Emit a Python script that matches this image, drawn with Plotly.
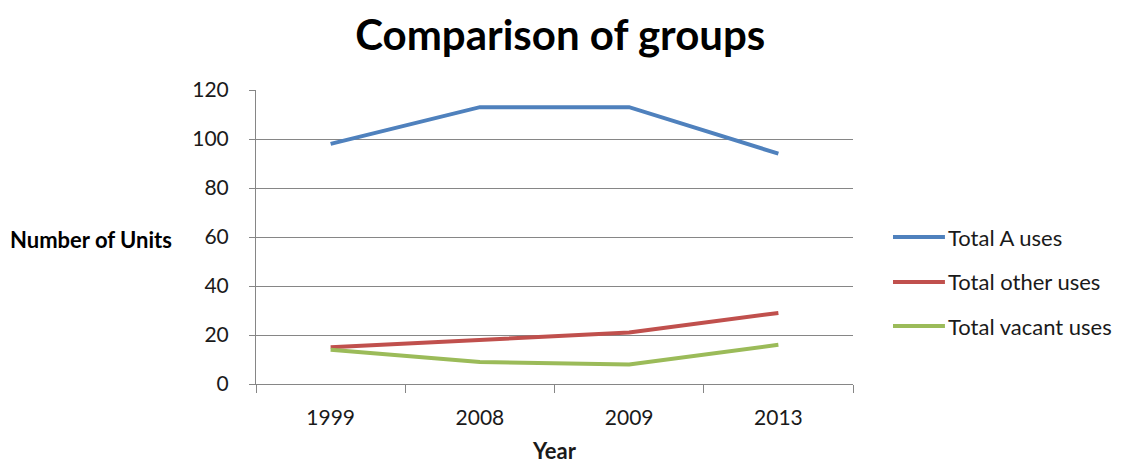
import plotly.graph_objects as go

# Survey years and unit counts per group
years = ["1999", "2008", "2009", "2013"]
total_a_uses = [98, 113, 113, 94]
total_other_uses = [15, 18, 21, 29]
total_vacant_uses = [14, 9, 8, 16]

series_names = ["Total A uses", "Total other uses", "Total vacant uses"]
series_values = [total_a_uses, total_other_uses, total_vacant_uses]
series_colors = ["#4F81BD", "#C0504D", "#9BBB59"]

y_ticks = [0, 20, 40, 60, 80, 100, 120]

FONT = "Lato"
AXIS_GRAY = "#868686"
TEXT = "#1a1a1a"

fig = go.Figure()
for name, vals, color in zip(series_names, series_values, series_colors):
    fig.add_trace(go.Scatter(
        x=years, y=vals, name=name, mode="lines",
        line=dict(color=color, width=4),
        showlegend=False,
    ))

fig.update_layout(
    width=1125, height=464,
    margin=dict(l=256, r=272, t=90, b=80, autoexpand=False),
    paper_bgcolor="white", plot_bgcolor="white",
    font=dict(family=FONT, size=21, color=TEXT),
    title=dict(
        text="<b>Comparison of groups</b>",
        font=dict(family=FONT, size=42, color="black"),
        x=0.498, xanchor="center", y=0.925, yanchor="middle",
    ),
)

fig.update_xaxes(
    type="category", range=[-0.5, 3.5], automargin=False,
    tickson="boundaries", ticks="outside", ticklen=8, tickcolor=AXIS_GRAY,
    showline=True, linecolor=AXIS_GRAY, linewidth=1,
    showgrid=False, zeroline=False,
    tickfont=dict(family=FONT, size=21, color=TEXT),
    ticklabelstandoff=15,
    title=dict(text="<b>Year</b>", font=dict(family=FONT, size=22, color=TEXT), standoff=21),
)

fig.update_yaxes(
    range=[0, 120], tickvals=y_ticks, automargin=False,
    ticks="outside", ticklen=6, tickcolor=AXIS_GRAY,
    showline=True, linecolor=AXIS_GRAY, linewidth=1,
    showgrid=True, gridcolor=AXIS_GRAY, gridwidth=1,
    zeroline=False,
    tickfont=dict(family=FONT, size=21, color=TEXT),
    ticklabelstandoff=16,
)

fig.add_annotation(
    text="<b>Number of Units</b>", xref="paper", yref="paper",
    x=-0.415, xanchor="left", y=0.49, yanchor="middle",
    showarrow=False, font=dict(family=FONT, size=22, color="black"),
)

# Legend drawn to the right of the plot: a line swatch followed by the series name
legend_y = [0.50, 0.347, 0.197]
for name, color, ly in zip(series_names, series_colors, legend_y):
    fig.add_shape(
        type="line", xref="paper", yref="paper",
        x0=1.067, x1=1.154, y0=ly, y1=ly,
        line=dict(color=color, width=4),
    )
    fig.add_annotation(
        text=name, xref="paper", yref="paper",
        x=1.156, xanchor="left", y=ly, yanchor="middle",
        showarrow=False, font=dict(family=FONT, size=22, color=TEXT),
    )

fig.write_html("out.html")
